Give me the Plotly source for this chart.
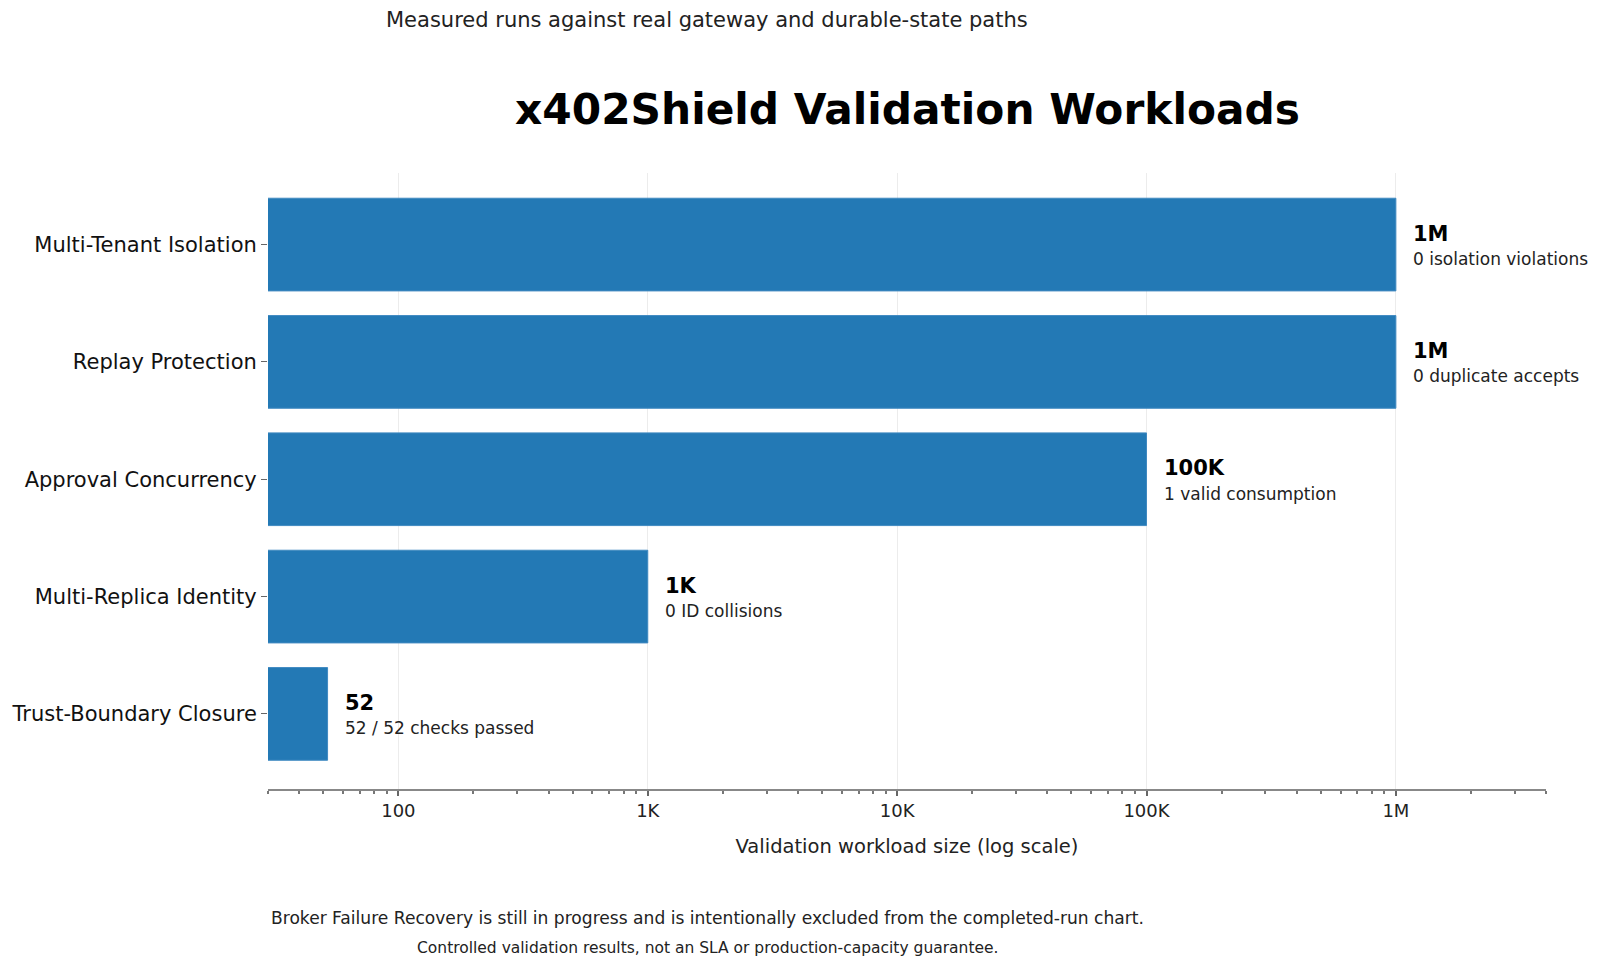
import numpy as np
import plotly.graph_objects as go

# workloads, top to bottom as drawn
workloads = ['Multi-Tenant Isolation', 'Replay Protection', 'Approval Concurrency',
             'Multi-Replica Identity', 'Trust-Boundary Closure']
sizes = [1000000, 1000000, 100000, 1000, 52]
size_labels = ['1M', '1M', '100K', '1K', '52']
outcomes = ['0 isolation violations', '0 duplicate accepts', '1 valid consumption',
            '0 ID collisions', '52 / 52 checks passed']

tick_vals = [100, 1000, 10000, 100000, 1000000]
tick_text = ['100', '1K', '10K', '100K', '1M']

FONT = 'DejaVu Sans'
BLUE = '#1f77b4'

# plot area in pixels (used for placing the page texts)
L, R, T, B = 260, 1538, 165, 781


def px_x(px):
    return (px - L) / (R - L)


def px_y(py):
    return (B - py) / (B - T)


fig = go.Figure(go.Bar(
    x=sizes, y=workloads, orientation='h',
    marker=dict(color=BLUE, opacity=0.98, line=dict(color='#3d88c0', width=1)),
    hoverinfo='x+y',
))

# value + outcome labels at bar ends
for w, v, lab, note in zip(workloads, sizes, size_labels, outcomes):
    fig.add_annotation(x=np.log10(v), y=w, text='<b>' + lab + '</b>',
                       showarrow=False, xanchor='left', yanchor='middle',
                       xshift=15, yshift=11, font=dict(family=FONT, size=21, color='#000'))
    fig.add_annotation(x=np.log10(v), y=w, text=note,
                       showarrow=False, xanchor='left', yanchor='middle',
                       xshift=15, yshift=-14.5, font=dict(family=FONT, size=17, color='#222'))

fig.add_annotation(xref='paper', yref='paper', x=0.5, y=px_y(102),
                   text='<b>x402Shield Validation Workloads</b>', showarrow=False,
                   xanchor='center', yanchor='middle',
                   font=dict(family=FONT, size=42.3, color='#000'))
fig.add_annotation(xref='paper', yref='paper', x=px_x(699), y=px_y(12.5),
                   text='Measured runs against real gateway and durable-state paths',
                   showarrow=False, xanchor='center', yanchor='middle',
                   font=dict(family=FONT, size=21, color='#222'))
fig.add_annotation(xref='paper', yref='paper', x=px_x(699), y=px_y(910),
                   text='Broker Failure Recovery is still in progress and is intentionally '
                        'excluded from the completed-run chart.',
                   showarrow=False, xanchor='center', yanchor='middle',
                   font=dict(family=FONT, size=17.1, color='#222'))
fig.add_annotation(xref='paper', yref='paper', x=px_x(699), y=px_y(940),
                   text='Controlled validation results, not an SLA or production-capacity guarantee.',
                   showarrow=False, xanchor='center', yanchor='middle',
                   font=dict(family=FONT, size=15.5, color='#222'))

fig.update_layout(
    width=1600, height=968,
    margin=dict(l=L, r=1600 - R, t=T, b=968 - B),
    plot_bgcolor='white', paper_bgcolor='white',
    bargap=0.21, showlegend=False,
    font=dict(family=FONT, color='#222'),
    xaxis=dict(
        type='log', range=[np.log10(30), np.log10(4e6)],
        tickvals=tick_vals, ticktext=tick_text,
        tickfont=dict(size=18, color='#222'),
        ticks='outside', ticklen=5, tickcolor='#666', tickwidth=1.5,
        minor=dict(ticks='outside', ticklen=3, tickcolor='#777', dtick='D1',
                   showgrid=False),
        showline=True, linecolor='#888', linewidth=1.5,
        showgrid=True, gridcolor='#ececec', gridwidth=1,
        zeroline=False, automargin=False,
        title=dict(text='Validation workload size (log scale)',
                   font=dict(size=19.5, color='#222'), standoff=19),
    ),
    yaxis=dict(
        type='category', range=[4.64, -0.61],
        tickfont=dict(size=21, color='#111'),
        ticks='outside', ticklen=6, tickcolor='#666',
        showline=False, showgrid=False, zeroline=False, automargin=False,
    ),
)

fig.write_html('out.html')
